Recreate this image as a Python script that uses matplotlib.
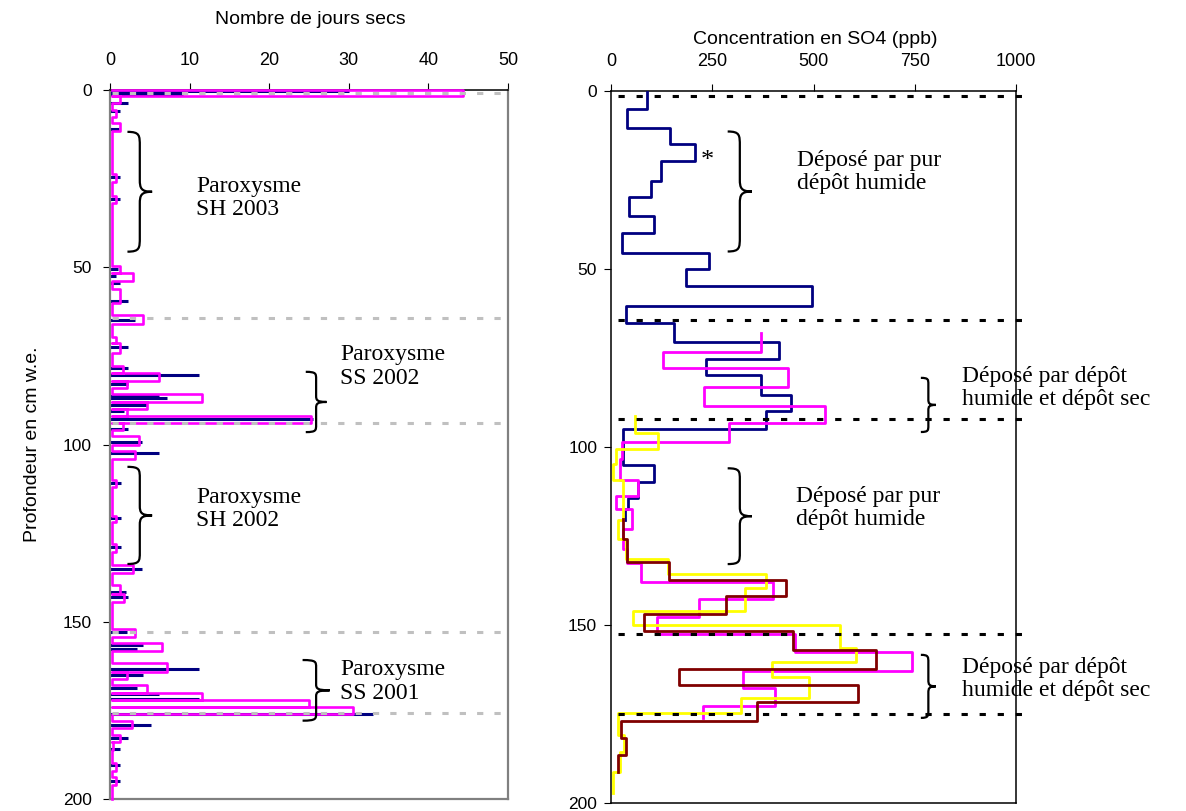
import numpy as np
import matplotlib
matplotlib.use("Agg")
import matplotlib.pyplot as plt
from matplotlib.path import Path
from matplotlib.patches import PathPatch

# ---- left panel : nombre de jours secs ----
navy_depth = [0.4, 1.1, 3.6, 6.0, 11.0, 24.5, 30.8, 50.5, 52.5, 54.5, 59.4, 64.8,
              72.5, 78.5, 80.3, 83.0, 86.3, 86.9, 88.8, 90.6, 92.9, 95.6, 99.3,
              102.4, 110.9, 120.8, 129.0, 135.0, 141.5, 143.0, 153.0, 156.6, 157.6,
              163.2, 165.0, 168.7, 170.3, 171.9, 175.9, 179.0, 182.9, 186.0, 190.4, 195.0]
navy_days = [30.0, 9.2, 2.3, 1.3, 1.2, 1.3, 1.3, 1.0, 0.8, 1.3, 2.3, 3.1,
             2.3, 2.3, 11.2, 2.3, 6.2, 7.2, 4.6, 1.8, 25.5, 2.3, 4.0,
             6.2, 1.4, 1.4, 1.4, 4.0, 2.0, 2.3, 2.1, 4.2, 3.4,
             11.2, 4.1, 3.4, 6.2, 11.2, 33.0, 5.2, 2.3, 1.3, 1.3, 1.3]

mag_top = [0.0, 1.6, 5.6, 9.4, 23.8, 29.8, 49.6, 51.6, 56.0, 63.5, 69.8, 71.5, 77.9,
           79.9, 82.1, 85.8, 87.9, 90.0, 92.0, 94.0, 97.6, 101.7, 110.0, 120.2, 128.2,
           134.0, 139.6, 142.2, 152.1, 154.2, 156.1, 161.7, 164.1, 167.8, 170.0, 172.1,
           174.1, 177.9, 181.9, 183.8, 189.8, 193.9]
mag_bot = [1.6, 3.8, 7.5, 11.7, 25.9, 31.8, 51.6, 53.9, 60.0, 66.1, 71.5, 74.3, 79.9,
           82.1, 84.0, 87.9, 90.0, 92.0, 93.9, 96.0, 100.1, 104.1, 111.9, 122.0, 130.2,
           136.2, 142.2, 144.3, 154.2, 156.1, 158.2, 164.1, 166.1, 170.0, 172.1, 174.1,
           176.1, 180.0, 183.8, 186.2, 192.0, 196.0]
mag_days = [44.4, 1.3, 0.75, 1.3, 0.75, 0.75, 1.3, 2.85, 1.3, 4.1, 0.75, 1.3, 1.7,
            6.2, 2.2, 11.6, 4.6, 2.1, 25.2, 1.7, 3.7, 3.1, 0.75, 0.75, 0.75,
            2.85, 1.3, 1.8, 3.2, 0.3, 6.6, 7.2, 2.2, 4.6, 11.6, 25.0,
            30.5, 2.8, 1.3, 0.4, 0.75, 0.75]

left_breaks = [0.9, 64.4, 94.0, 153.0, 175.6]

# ---- right panel : concentration en SO4 ----
blue_edges = [0.2, 5.1, 10.3, 14.9, 19.8, 25.4, 29.9, 35.0, 40.0, 45.5, 50.1, 54.8,
              60.4, 65.1, 70.5, 75.2, 79.7, 85.3, 89.8, 95.0, 105.0, 109.9, 114.3,
              117.4, 120.4]
blue_so4 = [88, 39, 146, 207, 123, 98, 45, 105, 26, 243, 185, 496, 37, 156, 415,
            234, 370, 444, 382, 30, 107, 66, 43, 35]

pink_edges = [68.1, 73.2, 77.9, 83.1, 88.4, 93.3, 98.5, 103.4, 109.4, 113.8, 117.4,
              123.0, 128.6, 132.5, 138.0, 142.8, 147.7, 152.6, 157.5, 162.8, 167.8,
              172.9, 176.2]
pink_so4 = [370, 129, 438, 230, 528, 292, 26, 22, 66, 12, 53, 29, 40, 73, 399, 218,
            113, 454, 742, 326, 406, 226]

yellow_edges = [91.2, 96.0, 100.6, 104.8, 109.4, 120.4, 125.8, 131.4, 135.6, 139.5,
                146.0, 150.1, 156.4, 160.5, 164.7, 170.6, 174.8, 180.9, 185.6, 191.2, 197.2]
yellow_so4 = [58, 117, 12, 6, 29, 17, 37, 141, 382, 331, 55, 565, 605, 397, 490,
              320, 18, 32, 22, 6]

red_edges = [120.2, 125.8, 132.2, 137.3, 142.0, 147.0, 151.7, 157.0, 162.4, 167.0,
             171.5, 177.1, 181.8, 186.5, 191.3]
red_so4 = [29, 39, 143, 432, 283, 81, 450, 655, 168, 609, 360, 24, 37, 18]

right_breaks = [1.4, 64.3, 92.2, 152.6, 174.9]

plt.rcParams['lines.scale_dashes'] = False
SANS = 'Liberation Sans'
SERIF = 'Liberation Serif'


def steps(edges, vals):
    ys = np.column_stack([edges[:-1], edges[1:]]).ravel()
    xs = np.repeat(vals, 2)
    return xs, ys


def brace(ax, x, y0, y1, w):
    pts = [(0, 0), (0.5, 0), (0.5, 0.03), (0.5, 0.12), (0.5, 0.40),
           (0.5, 0.47), (0.55, 0.5), (1, 0.5),
           (0.55, 0.5), (0.5, 0.53), (0.5, 0.60), (0.5, 0.88),
           (0.5, 0.97), (0.5, 1), (0, 1)]
    codes = [Path.MOVETO] + [Path.CURVE4] * 3 + [Path.LINETO] + [Path.CURVE4] * 6 + \
            [Path.LINETO] + [Path.CURVE4] * 3
    verts = [(x + px * w, y0 + py * (y1 - y0)) for px, py in pts]
    ax.add_patch(PathPatch(Path(verts, codes), fill=False, lw=1.6, color='black',
                           clip_on=False, zorder=6))


fig = plt.figure(figsize=(11.86, 8.11), dpi=100)
ax1 = fig.add_axes([0.0927, 0.0148, 0.3356, 0.8742])
ax2 = fig.add_axes([0.5152, 0.0099, 0.3415, 0.878])

# left panel
ax1.hlines(navy_depth, 0, navy_days, color='#000080', lw=2.2, zorder=2)
mx, my = [0.2], [0.0]
for t, b, v in zip(mag_top, mag_bot, mag_days):
    mx += [0.2, v, v, 0.2]
    my += [t, t, b, b]
mx.append(0.2)
my.append(200)
ax1.plot(mx, my, color='#FF00FF', lw=1.9, zorder=3, clip_on=False)
for d in left_breaks:
    ax1.axhline(d, xmin=0.005, xmax=1, color='#C0C0C0', lw=2.2,
                dashes=(4.5, 8), zorder=4)

ax1.set_xlim(0, 50)
ax1.set_ylim(200, 0)
ax1.set_xticks([0, 10, 20, 30, 40, 50])
ax1.set_yticks([0, 50, 100, 150, 200])
ax1.xaxis.tick_top()
ax1.tick_params(axis='x', length=5, pad=10, labelsize=13)
ax1.tick_params(axis='y', length=5, pad=8, labelsize=12.5)
for s in ['left', 'right', 'bottom']:
    ax1.spines[s].set_color('#808080')
    ax1.spines[s].set_linewidth(1.6)
ax1.spines['top'].set_linewidth(1.1)
for lab in ax1.get_xticklabels() + ax1.get_yticklabels():
    lab.set_family(SANS)
ax1.set_ylabel('Profondeur en cm w.e.', family=SANS, fontsize=14, labelpad=16)

brace(ax1, 2.2, 11.8, 45.6, 3.1)
ax1.text(10.8, 30.5, 'Paroxysme\nSH 2003', family=SERIF, fontsize=17,
         va='center', linespacing=1.15)
brace(ax1, 24.6, 79.5, 96.5, 2.6)
ax1.text(28.9, 78.0, 'Paroxysme\nSS 2002', family=SERIF, fontsize=17,
         va='center', linespacing=1.15)
brace(ax1, 2.2, 106.3, 133.7, 3.1)
ax1.text(10.8, 118.2, 'Paroxysme\nSH 2002', family=SERIF, fontsize=17,
         va='center', linespacing=1.15)
brace(ax1, 24.2, 160.8, 177.9, 3.4)
ax1.text(28.9, 166.9, 'Paroxysme\nSS 2001', family=SERIF, fontsize=17,
         va='center', linespacing=1.15)

# right panel
for e, v, c in [(blue_edges, blue_so4, '#000080'), (pink_edges, pink_so4, '#FF00FF'),
                (yellow_edges, yellow_so4, '#FFFF00'), (red_edges, red_so4, '#800000')]:
    xs, ys = steps(e, v)
    ax2.plot(xs, ys, color=c, lw=2.0, zorder=3)
for d in right_breaks:
    ax2.axhline(d, xmin=0.017, xmax=1.035, color='black', lw=2.2,
                dashes=(4.5, 8.5), zorder=4, clip_on=False)

ax2.set_xlim(0, 1000)
ax2.set_ylim(200, 0)
ax2.set_xticks([0, 250, 500, 750, 1000])
ax2.set_yticks([0, 50, 100, 150, 200])
ax2.xaxis.tick_top()
ax2.tick_params(axis='x', length=5, pad=10, labelsize=13)
ax2.tick_params(axis='y', length=5, pad=5, labelsize=12.5)
for s in ax2.spines.values():
    s.set_linewidth(1.1)
for lab in ax2.get_xticklabels() + ax2.get_yticklabels():
    lab.set_family(SANS)

brace(ax2, 288, 11.4, 45.1, 60)
ax2.text(238, 19.8, '*', family=SERIF, fontsize=19, ha='center', va='center')
ax2.text(458, 22.8, 'Déposé par pur\ndépôt humide', family=SERIF, fontsize=17,
         va='center', linespacing=1.15)
brace(ax2, 765, 80.6, 95.8, 37)
ax2.text(867, 83.4, 'Déposé par dépôt\nhumide et dépôt sec', family=SERIF,
         fontsize=17, va='center', linespacing=1.15)
brace(ax2, 288, 106.0, 132.9, 60)
ax2.text(457, 117.2, 'Déposé par pur\ndépôt humide', family=SERIF, fontsize=17,
         va='center', linespacing=1.15)
brace(ax2, 765, 158.4, 176.1, 37)
ax2.text(867, 165.2, 'Déposé par dépôt\nhumide et dépôt sec', family=SERIF,
         fontsize=17, va='center', linespacing=1.15)

fig.text(310 / 1186, 1 - 20 / 811, 'Nombre de jours secs', family=SANS,
         fontsize=14, ha='center', va='center')
fig.text(815 / 1186, 1 - 40 / 811, 'Concentration en SO4 (ppb)', family=SANS,
         fontsize=14, ha='center', va='center')

fig.savefig('out.png', dpi=100)
